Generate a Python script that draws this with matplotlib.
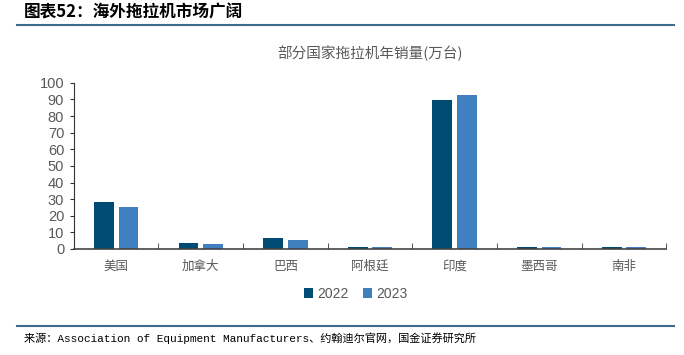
import matplotlib.pyplot as plt
import numpy as np

plt.rcParams['font.family'] = ['Noto Sans CJK SC', 'DejaVu Sans']

countries = ['美国', '加拿大', '巴西', '阿根廷', '印度', '墨西哥', '南非']
sales_2022 = [28.2, 3.4, 6.6, 1.0, 89.8, 1.0, 1.0]
sales_2023 = [25.3, 2.8, 5.5, 1.0, 92.8, 1.0, 1.0]
y_ticks = list(range(0, 101, 10))

c22 = '#004b73'
c23 = '#4080c0'
grey = '#595959'

fig = plt.figure(figsize=(6.84, 3.55), dpi=100)
ax = fig.add_axes([0.108, 0.2986, 0.866, 0.468])

x = np.arange(len(countries))
w = 0.235
ax.bar(x - 0.145, sales_2022, w, color=c22, label='2022')
ax.bar(x + 0.145, sales_2023, w, color=c23, label='2023')

ax.set_xlim(-0.5, len(countries) - 0.5)
ax.set_ylim(0, 100)
ax.set_yticks(y_ticks)
ax.set_xticks(x)
ax.set_xticklabels(countries, fontsize=9, color=grey)
ax.set_xticks(np.arange(-0.5, len(countries), 1), minor=True)
ax.tick_params(axis='x', which='major', length=0, pad=8)
ax.tick_params(axis='x', which='minor', direction='in', length=4, color='#333333')
ax.tick_params(axis='y', direction='out', length=3, color='#333333', labelsize=10.5, labelcolor=grey, pad=4)
for lab in ax.get_yticklabels():
    lab.set_family('Liberation Sans')
for s in ['top', 'right']:
    ax.spines[s].set_visible(False)
ax.spines['left'].set_color('#333333')
ax.spines['bottom'].set_color('#444444')
ax.spines['bottom'].set_linewidth(1.2)

ax.set_title('部分国家拖拉机年销量(万台)', fontsize=10.5, color=grey, pad=18, x=0.5)

leg = fig.legend(loc='center', bbox_to_anchor=(0.52, 0.172), ncol=2, frameon=False,
                 fontsize=10, handlelength=0.7, handleheight=0.7, handletextpad=0.3,
                 columnspacing=1.0)
for t in leg.get_texts():
    t.set_color(grey)
    t.set_family('Liberation Sans')

# header and footer
fig.text(0.035, 0.965, '图表52：海外拖拉机市场广阔', fontsize=12, fontweight='bold',
         va='center', ha='left', color='black')
fig.add_artist(plt.Line2D([0.025, 0.985], [0.93, 0.93], color='#3d6a8a', lw=1.5))
fig.add_artist(plt.Line2D([0.025, 0.985], [0.082, 0.082], color='#3d6a8a', lw=1.5))
fig.text(0.035, 0.047, '来源：Association of Equipment Manufacturers、约翰迪尔官网，国金证券研究所',
         fontsize=8, va='center', ha='left', color='black',
         family=['Liberation Mono', 'Noto Sans CJK SC'])

fig.savefig('out.png', dpi=100)
